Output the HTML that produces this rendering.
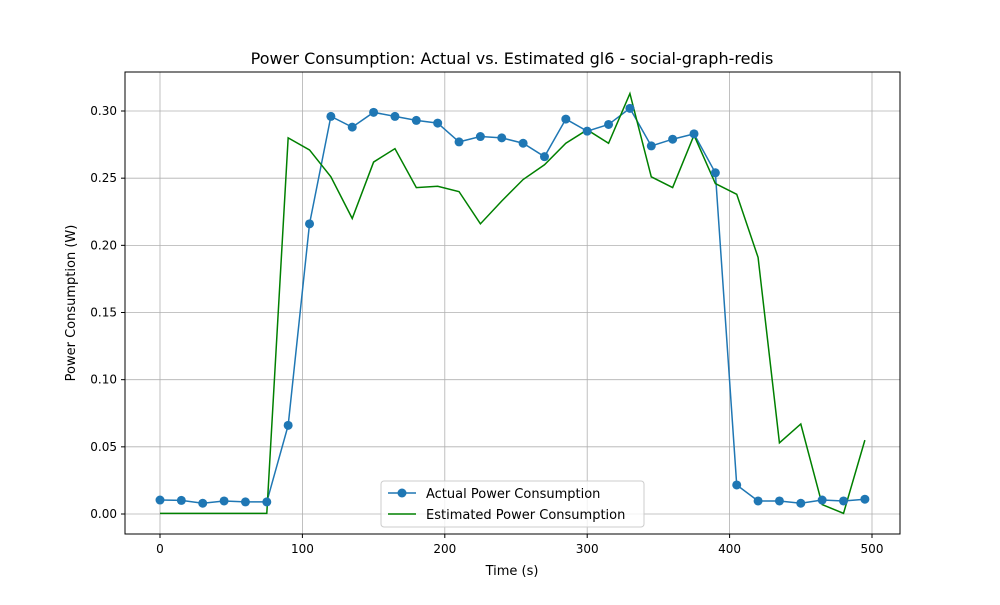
<!DOCTYPE html>
<html><head><meta charset="utf-8"><style>
body{margin:0;background:#fff;font-family:"Liberation Sans","DejaVu Sans",sans-serif;}
svg text{font-family:"DejaVu Sans","Liberation Sans",sans-serif;}
</style></head><body>
<svg id="chart" width="1000" height="600" viewBox="0 0 1000 600">
<rect x="0" y="0" width="1000" height="600" fill="#fff"/>
<g id="grid"></g>
<g id="series"></g>
<rect x="125" y="72" width="775" height="462" fill="none" stroke="#000" stroke-width="1"/>
<g id="ticks"></g>
<text x="512" y="64" text-anchor="middle" font-size="16">Power Consumption: Actual vs. Estimated gl6 - social-graph-redis</text>
<text x="512" y="575" text-anchor="middle" font-size="13">Time (s)</text>
<text x="75" y="303" text-anchor="middle" font-size="13" transform="rotate(-90 75 303)">Power Consumption (W)</text>
<g>
<rect x="381" y="481" width="263" height="46" rx="3" fill="#fff" fill-opacity="0.8" stroke="#ccc"/>
<g>
<line x1="388" y1="493" x2="416" y2="493" stroke="#1f77b4" stroke-width="1.5"/>
<circle cx="402" cy="493" r="4.5" fill="#1f77b4"/>
<text x="426" y="498" font-size="13">Actual Power Consumption</text>
</g>
<g>
<line x1="388" y1="514" x2="416" y2="514" stroke="green" stroke-width="1.5"/>
<text x="426" y="519" font-size="13">Estimated Power Consumption</text>
</g>
</g>
</svg>
<script>
const times=[0,15,30,45,60,75,90,105,120,135,150,165,180,195,210,225,240,255,270,285,300,315,330,345,360,375,390,405,420,435,450,465,480,495];
const actual=[0.0104,0.0101,0.008,0.0097,0.009,0.009,0.066,0.216,0.296,0.288,0.299,0.296,0.293,0.291,0.277,0.281,0.280,0.276,0.266,0.294,0.285,0.290,0.302,0.274,0.279,0.283,0.254,0.0216,0.0097,0.0097,0.008,0.0104,0.0097,0.011];
const estimated=[0.0005,0.0005,0.0005,0.0005,0.0005,0.0005,0.280,0.271,0.251,0.220,0.262,0.272,0.243,0.244,0.240,0.216,0.233,0.249,0.260,0.276,0.286,0.276,0.313,0.251,0.243,0.282,0.246,0.238,0.191,0.053,0.067,0.007,0.0005,0.055];
const xTicks=[0,100,200,300,400,500];
const yTicks=[0,0.05,0.10,0.15,0.20,0.25,0.30];
const yLabels=["0.00","0.05","0.10","0.15","0.20","0.25","0.30"];
const NS="http://www.w3.org/2000/svg";
const X=v=>160+v*1.424;
const Y=v=>514-v*1343.3;
function mk(tag,attrs,parent){const e=document.createElementNS(NS,tag);for(const k in attrs)e.setAttribute(k,attrs[k]);parent.appendChild(e);return e;}
const grid=document.getElementById('grid'),ticks=document.getElementById('ticks'),series=document.getElementById('series');
xTicks.forEach(t=>{
 const g=mk('line',{x1:X(t),x2:X(t),y1:72,y2:534,stroke:'#b0b0b0','stroke-width':0.8},grid);
 
 
 mk('line',{x1:X(t),x2:X(t),y1:534,y2:538,stroke:'#000'},ticks);
 const l=mk('text',{x:X(t),y:553,'text-anchor':'middle','font-size':12},ticks);
 l.textContent=t;
 
 
});
yTicks.forEach((t,i)=>{
 const g=mk('line',{x1:125,x2:900,y1:Y(t),y2:Y(t),stroke:'#b0b0b0','stroke-width':0.8},grid);
 
 
 mk('line',{x1:121,x2:125,y1:Y(t),y2:Y(t),stroke:'#000'},ticks);
 const l=mk('text',{x:117,y:Y(t)+4,'text-anchor':'end','font-size':12},ticks);
 l.textContent=yLabels[i];
 
 
});
const pa=mk('polyline',{points:times.map((t,i)=>X(t)+','+Y(actual[i])).join(' '),fill:'none',stroke:'#1f77b4','stroke-width':1.5},series);


const pe=mk('polyline',{points:times.map((t,i)=>X(t)+','+Y(estimated[i])).join(' '),fill:'none',stroke:'green','stroke-width':1.5},series);


times.forEach((t,i)=>{
 const c=mk('circle',{cx:X(t),cy:Y(actual[i]),r:4.5,fill:'#1f77b4'},series);
 
 
});
</script>
</body></html>
